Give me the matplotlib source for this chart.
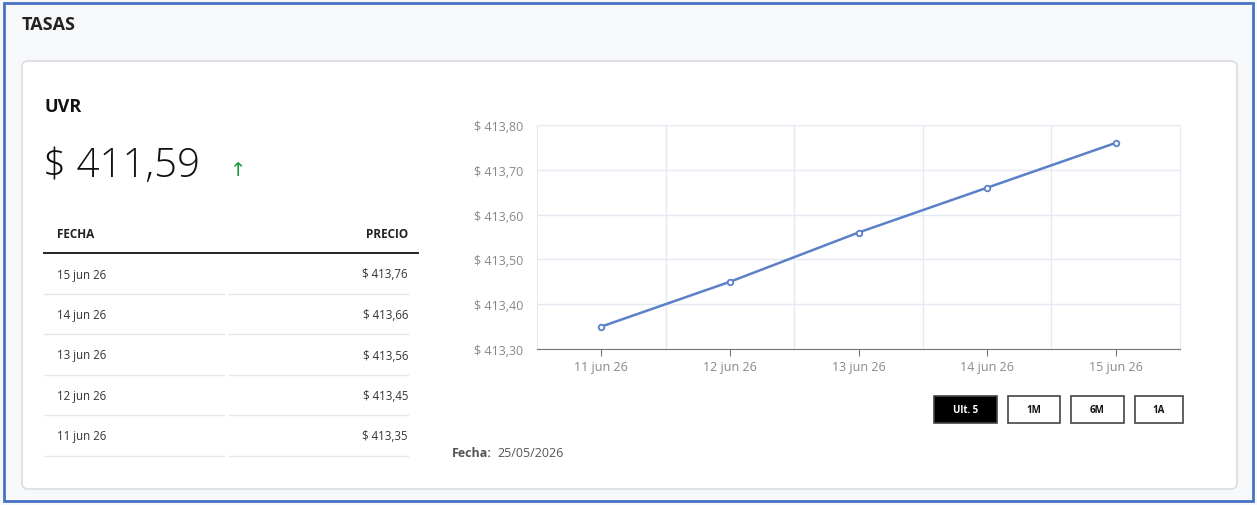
import matplotlib.pyplot as plt
from matplotlib.patches import FancyBboxPatch, Rectangle

# ---- data ----
fechas = ["11 jun 26", "12 jun 26", "13 jun 26", "14 jun 26", "15 jun 26"]
precios = [413.35, 413.45, 413.56, 413.66, 413.76]
ultimo = 411.59
y_ticks = [413.30, 413.40, 413.50, 413.60, 413.70, 413.80]
botones = ["Ult. 5", "1M", "6M", "1A"]
fecha_corte = "25/05/2026"

W, H = 1257, 506
plt.rcParams["font.family"] = ["Open Sans", "DejaVu Sans"]


def pesos(v):
    return "$ " + f"{v:,.2f}".replace(",", "X").replace(".", ",").replace("X", ".")


fig = plt.figure(figsize=(W / 100, H / 100), dpi=100)
fig.patch.set_facecolor("#f7f8fa")

# background canvas in pixel coords
bg = fig.add_axes([0, 0, 1, 1])
bg.set_xlim(0, W)
bg.set_ylim(H, 0)
bg.axis("off")
bg.add_patch(Rectangle((4, 4), W - 8, H - 8, fill=False, ec="#4a72c4", lw=2))
bg.text(22, 25, "TASAS", fontsize=13, fontweight="bold", color="#222", va="center")
bg.add_patch(FancyBboxPatch((22, 62), 1215, 428, boxstyle="round,pad=0,rounding_size=6",
                            fc="white", ec="#dcdde0", lw=1.2))

bg.text(44, 107, "UVR", fontsize=13, fontweight="bold", color="#111", va="center")
bg.text(43, 166, pesos(ultimo), fontsize=29, fontweight=300, color="#111", va="center")
bg.text(238, 170, "↑", fontsize=14, color="#1a9a3a",
        va="center", ha="center", family="DejaVu Sans")

# table
bg.text(57, 235, "FECHA", fontsize=8.5, fontweight="bold", color="#222", va="center")
bg.text(408, 235, "PRECIO", fontsize=8.5, fontweight="bold", color="#222", va="center", ha="right")
bg.plot([44, 418], [254, 254], color="#222", lw=1.4)
for i, (f, p) in enumerate(zip(fechas[::-1], precios[::-1])):
    y = 275 + i * 40.5
    bg.text(57, y, f, fontsize=8.3, color="#333", va="center")
    bg.text(408, y, pesos(p), fontsize=8.3, color="#333", va="center", ha="right")
    bg.plot([44, 224], [y + 19.5, y + 19.5], color="#e6e7ea", lw=1)
    bg.plot([229, 408], [y + 19.5, y + 19.5], color="#e6e7ea", lw=1)

# buttons
bx = [(934, 63), (1008, 52), (1071, 53), (1135, 48)]
for (x0, w), lab in zip(bx, botones):
    activo = lab == botones[0]
    bg.add_patch(Rectangle((x0, 397), w, 27, fc="black" if activo else "white",
                           ec="#444", lw=1.2))
    bg.text(x0 + w / 2, 411, lab, fontsize=7, fontweight="bold",
            color="white" if activo else "#111", ha="center", va="center")

bg.text(452, 454, "Fecha:", fontsize=9, fontweight="bold", color="#555", va="center")
bg.text(497, 454, fecha_corte, fontsize=9, color="#555", va="center")

# chart
ax = fig.add_axes([537 / W, 1 - 350 / H, (1180 - 537) / W, (350 - 126) / H])
ax.set_facecolor("white")
xs = list(range(len(fechas)))
ax.plot(xs, precios, color="#5b80c8", lw=1.8, marker="o", ms=4,
        mfc="white", mec="#5b80c8", mew=1.3, zorder=3)
ax.set_xlim(-0.5, len(fechas) - 0.5)
ax.set_ylim(y_ticks[0], y_ticks[-1])
ax.set_yticks(y_ticks)
ax.set_yticklabels([pesos(v) for v in y_ticks], fontsize=9, color="#888")
ax.set_xticks(xs)
ax.set_xticklabels(fechas, fontsize=9, color="#888")
ax.set_xticks([x + 0.5 for x in xs[:-1]], minor=True)
ax.grid(which="minor", axis="x", color="#e4e9f4", lw=1)
ax.grid(which="major", axis="y", color="#e4e9f4", lw=1)
ax.tick_params(axis="y", length=0, pad=10)
ax.tick_params(axis="x", which="major", length=5, color="#777", pad=3)
ax.tick_params(axis="x", which="minor", length=0)
for s in ["top", "right", "left"]:
    ax.spines[s].set_color("#e4e9f4")
ax.spines["bottom"].set_color("#777")

fig.savefig("out.png", dpi=100, facecolor=fig.get_facecolor())
